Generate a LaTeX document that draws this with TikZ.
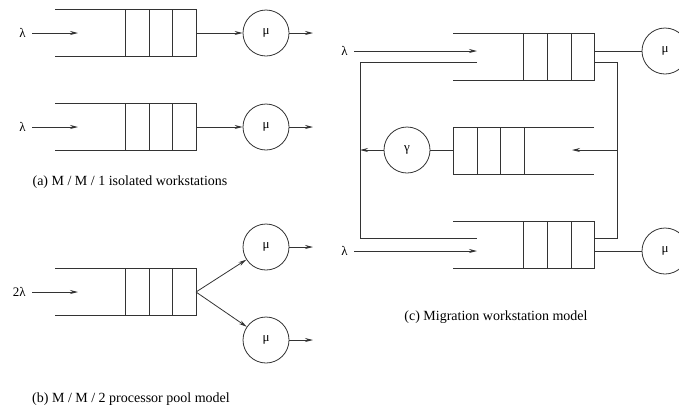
\documentclass[tikz,border=0pt]{standalone}
\usepackage{fontspec}
\setmainfont{Liberation Serif}
\usepackage{tikz}
\usetikzlibrary{arrows.meta}

\tikzset{
  srv/.style={circle,draw=black!80,minimum size=46pt,inner sep=0pt},
  lbl/.style={anchor=east,inner xsep=6pt,inner ysep=2pt},
  flow/.style={-{Stealth[length=8pt,width=4pt]}},
  capt/.style={font=\fontsize{14}{16}\selectfont}
}

\begin{document}
\begin{tikzpicture}[x=1pt,y=-1pt,line width=0.8pt,draw=black!80,font=\fontsize{13}{15}\selectfont]
\useasboundingbox (0,0) rectangle (679,408);

% (a) two isolated workstations
\foreach \y/\n in {9/1,103/2}{
  \draw (55,\y) -- (196,\y) -- (196,\y+47) -- (55,\y+47);
  \foreach \x in {125,149,172} \draw (\x,\y) -- (\x,\y+47);
  \node[lbl] (la\n) at (32,\y+24) {λ};
  \coordinate (ta\n) at (78,\y+24);
  \draw[flow] (la\n) -- (ta\n);
  \coordinate (qa\n) at (196,\y+24);
  \node[srv] (mua\n) at (266,\y+24) {μ};
  \draw[flow] (qa\n) -- (mua\n);
  \coordinate (oa\n) at (313,\y+24);
  \draw[flow] (mua\n) -- (oa\n);
}
\node[capt] (capa) at (130,182) {(a) M / M / 1 isolated workstations};

% (b) processor pool
\draw (55,268) -- (196,268) -- (196,315) -- (55,315);
\foreach \x in {125,149,172} \draw (\x,268) -- (\x,315);
\node[lbl] (lb) at (32,292) {2λ};
\coordinate (tb) at (78,292);
\draw[flow] (lb) -- (tb);
\coordinate (qb) at (196,292);
\node[srv] (mub1) at (266,247) {μ};
\node[srv] (mub2) at (266,340) {μ};
\draw[flow] (qb) -- (mub1);
\draw[flow] (qb) -- (mub2);
\coordinate (ob1) at (313,247);
\coordinate (ob2) at (313,340);
\draw[flow] (mub1) -- (ob1);
\draw[flow] (mub2) -- (ob2);
\node[capt] (capb) at (131,399) {(b) M / M / 2 processor pool model};

% (c) migration
\foreach \y/\n in {33/1,221/2}{
  \draw (453,\y) -- (594,\y) -- (594,\y+47) -- (453,\y+47);
  \foreach \x in {523,547,571} \draw (\x,\y) -- (\x,\y+47);
}
\node[lbl] (lc1) at (354,51) {λ};
\node[lbl] (lc2) at (354,251) {λ};
\coordinate (tc1) at (477,51);
\coordinate (tc2) at (477,251);
\draw[flow] (lc1) -- (tc1);
\draw[flow] (lc2) -- (tc2);
\coordinate (qc1) at (594,51);
\coordinate (qc2) at (594,251);
\node[srv] (muc1) at (665,51) {μ};
\node[srv] (muc2) at (665,251) {μ};
\draw (qc1) -- (muc1);
\draw (qc2) -- (muc2);

% migration queue
\draw (594,127) -- (453,127) -- (453,174) -- (594,174);
\foreach \x in {477,500,524} \draw (\x,127) -- (\x,174);
\coordinate (rt) at (594,62);
\coordinate (rb) at (594,238);
\coordinate (rm) at (617,150);
\coordinate (tm) at (572,150);
\draw (rt) -- (617,62) -- (617,238) -- (rb);
\draw[flow] (rm) -- (tm);
\node[srv] (gam) at (407,150) {γ};
\coordinate (qm) at (453,150);
\draw (qm) -- (gam);
\coordinate (ml) at (360,150);
\draw[flow] (gam) -- (ml);
\coordinate (lt) at (477,62);
\coordinate (lb2) at (477,238);
\draw (lt) -- (360,62) -- (360,238) -- (lb2);
\node[capt] (capc) at (496,317) {(c) Migration workstation model};
\end{tikzpicture}
\end{document}
